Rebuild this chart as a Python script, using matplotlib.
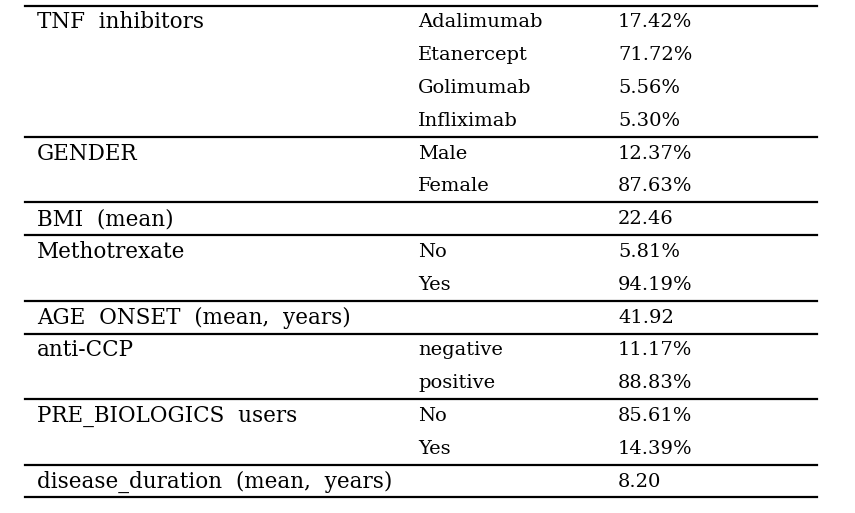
import matplotlib.pyplot as plt

# table content
variables = ["TNF  inhibitors", "GENDER", "BMI  (mean)", "Methotrexate",
             "AGE  ONSET  (mean,  years)", "anti-CCP", "PRE_BIOLOGICS  users",
             "disease_duration  (mean,  years)"]
levels = [["Adalimumab", "Etanercept", "Golimumab", "Infliximab"],
          ["Male", "Female"],
          [""],
          ["No", "Yes"],
          [""],
          ["negative", "positive"],
          ["No", "Yes"],
          [""]]
values = [["17.42%", "71.72%", "5.56%", "5.30%"],
          ["12.37%", "87.63%"],
          ["22.46"],
          ["5.81%", "94.19%"],
          ["41.92"],
          ["11.17%", "88.83%"],
          ["85.61%", "14.39%"],
          ["8.20"]]

plt.rcParams['font.family'] = ['DejaVu Serif']

fig = plt.figure(figsize=(8.55, 5.13), dpi=100)
ax = fig.add_axes([0, 0, 1, 1])
ax.set_xlim(0, 855)
ax.set_ylim(513, 0)
ax.axis("off")

top = 5.5
row_h = 32.8
x0, x1 = 25, 817
col_x = [37, 418, 618]
fs = 14

ax.plot([x0, x1], [top, top], color="black", lw=1.6)
r = 0
for var, levs, vals in zip(variables, levels, values):
    for i, (lev, val) in enumerate(zip(levs, vals)):
        yc = top + (r + 0.5) * row_h + 0.5
        if i == 0:
            ax.text(col_x[0], yc, var, fontsize=15.5, va="center", ha="left")
        ax.text(col_x[1], yc, lev, fontsize=fs, va="center", ha="left")
        ax.text(col_x[2], yc, val, fontsize=fs, va="center", ha="left")
        r += 1
    yl = top + r * row_h
    ax.plot([x0, x1], [yl, yl], color="black", lw=1.6)

fig.savefig("out.png", dpi=100)
